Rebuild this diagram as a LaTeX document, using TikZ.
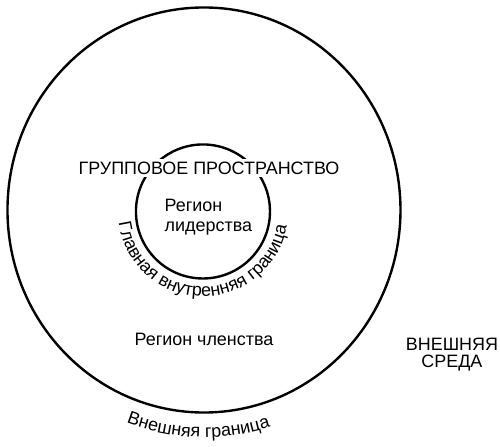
\documentclass[tikz,border=0pt]{standalone}
\usepackage{fontspec}
\setmainfont{Liberation Sans}
\usepackage{xcolor}
\usepackage{tikz}
\usetikzlibrary{decorations.text}
\definecolor{bg}{HTML}{FFFFFF}
\definecolor{ink}{HTML}{000000}
\tikzset{
  ring/.style={draw=ink, line width=1.2pt},
  lab/.style={text=ink, font=\fontsize{9}{10}\selectfont, inner sep=0pt},
  arclab/.style={decorate, decoration={text along path, text align=center,
      text={|\fontsize{9}{10}\selectfont|#1}}},
}
\begin{document}
\begin{tikzpicture}
  \def\rx{3.466}
  \def\ry{3.572}
  \def\r{1.182}
  \useasboundingbox[fill=bg] (-3.598,-4.163) rectangle (5.221,3.704);
  \coordinate (O) at (0,0);
  \coordinate (C) at (-0.018,-0.026);

  \draw[ring] (O) ellipse [x radius=\rx, y radius=\ry];
  \draw[ring] (C) circle (\r);
  \node[lab, fill=bg, inner xsep=2pt, inner ysep=1.4pt] (space) at (0.088,0.740) {ГРУППОВОЕ ПРОСТРАНСТВО};
  \node[lab, align=left, anchor=west] (lead) at (-0.700,-0.125) {Регион\\лидерства};
  \node[lab] (member) at (0,-2.284) {Регион членства};
  \node[lab, align=center, font=\fontsize{9}{8.6}\selectfont] (env) at (4.374,-2.549) {ВНЕШНЯЯ\\СРЕДА};

  \path[arclab={Главная внутренняя граница}] (C) ++(176:1.50) arc[start angle=176, end angle=362, radius=1.50]; % inner boundary, below the circle
  \path[arclab={Внешняя граница}] (O) ++(223.5:3.90 and 4.01) arc[start angle=223.5, end angle=313.5, x radius=3.90, y radius=4.01];
\end{tikzpicture}
\end{document}
